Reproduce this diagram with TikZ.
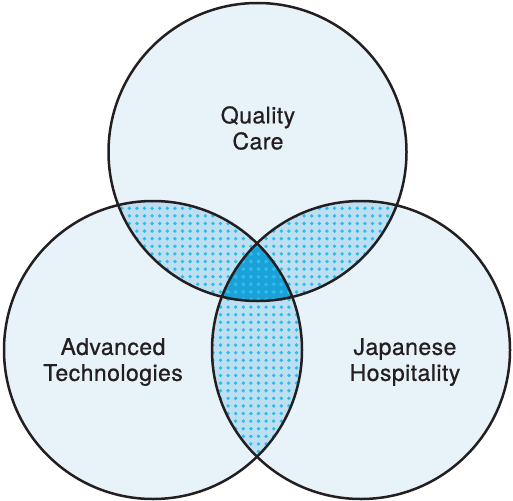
\documentclass[tikz,border=0pt]{standalone}
\usepackage{fontspec}
\setmainfont{TeX Gyre Heros}[LetterSpace=2, FakeBold=0.7]
\usetikzlibrary{positioning}
\definecolor{vennPale}{HTML}{E8F2F9}
\definecolor{vennMid}{HTML}{BEDFF1}
\definecolor{vennDeep}{HTML}{1BA1D8}
\definecolor{vennDot}{HTML}{29BFEC}
\definecolor{vennInk}{HTML}{231F20}
\newcommand{\rr}{149pt}
\newcommand{\dotgrid}{%
  \foreach \i in {0,...,41} {
    \foreach \j in {0,...,36} {
      \fill[vennDot] (106.5+\i*7.6, 193.1+\j*7.6) circle[radius=1.9pt];
    }
  }}

\begin{document}
\begin{tikzpicture}[x=1pt, y=-1pt,
  ring/.style={draw=vennInk, line width=2.5pt},
  venntext/.style={font=\fontsize{23}{26}\selectfont, text=vennInk, align=center}]
\useasboundingbox (0,0) rectangle (513,500);
\coordinate (cQ) at (257.5,152);
\coordinate (cA) at (153,350);
\coordinate (cJ) at (361,350);
% ---- base discs
\foreach \c in {cQ,cA,cJ}
  \fill[vennPale] (\c) circle[radius=\rr];
% ---- pairwise overlaps, dotted
\foreach \p/\q in {cQ/cA, cQ/cJ, cA/cJ} {
  \begin{scope}
    \clip (\p) circle[radius=\rr];
    \clip (\q) circle[radius=\rr];
    \fill[vennMid] (0,0) rectangle (513,500);
  \end{scope}
}
% ---- centre overlap
\begin{scope}
  \clip (cQ) circle[radius=\rr];
  \clip (cA) circle[radius=\rr];
  \clip (cJ) circle[radius=\rr];
  \fill[vennDeep] (0,0) rectangle (513,500);
\end{scope}
\foreach \p/\q in {cQ/cA, cQ/cJ, cA/cJ} {
  \begin{scope}
    \clip (\p) circle[radius=\rr];
    \clip (\q) circle[radius=\rr];
    \dotgrid
  \end{scope}
}
% ---- outlines
\foreach \c in {cQ,cA,cJ}
  \draw[ring] (\c) circle[radius=\rr];
% ---- labels
\node[venntext] (quality) at (258,128) {Quality\\Care};
\node[venntext] (advanced) at (113,362) {Advanced\\Technologies};
\node[venntext] (japanese) at (405,362) {Japanese\\Hospitality};
\end{tikzpicture}
\end{document}
